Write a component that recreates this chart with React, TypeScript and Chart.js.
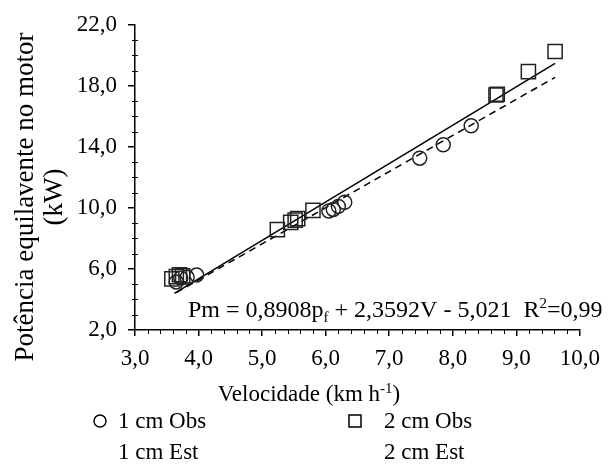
import { useEffect, useRef } from "react";
import { Chart, registerables } from "chart.js";

Chart.register(...registerables);

// Observed engine-equivalent power (kW) vs. travel speed (km/h), per working depth
const cm1Speed = [3.65, 3.72, 3.82, 3.97, 6.05, 6.12, 6.2, 6.3, 7.48, 7.85, 8.29];
const cm1Power = [5.15, 5.4, 5.45, 5.6, 9.8, 9.9, 10.1, 10.37, 13.26, 14.14, 15.38];
const cm2Speed = [3.58, 3.65, 3.7, 3.75, 5.24, 5.45, 5.52, 5.56, 5.8, 8.68, 8.7, 9.19, 9.61];
const cm2Power = [5.35, 5.5, 5.62, 5.55, 8.58, 9.05, 9.2, 9.3, 9.84, 17.4, 17.45, 18.93, 20.25];

// Estimated (model) lines
const cm1EstSpeed = [3.65, 9.61];
const cm1EstPower = [4.45, 18.56];
const cm2EstSpeed = [3.62, 9.61];
const cm2EstPower = [4.4, 19.47];

// Axis ranges and tick steps
const xRange = [3, 10];
const yRange = [2, 22];
const xMajorStep = 1;
const xMinorStep = 0.2;
const yMajorStep = 4;
const yMinorStep = 1;

const seriesLabels = ["1 cm Obs", "2 cm Obs", "1 cm Est", "2 cm Est"];
const xTitle = "Velocidade (km h";
const xTitleSup = "-1";
const yTitleLines = ["Potência equilavente no motor", "(kW)"];

const SERIF = '"Liberation Serif", "Times New Roman", serif';
const INK = "#000";

const fmt = (v: number) => v.toFixed(1).replace(".", ",");
const toXY = (xs: number[], ys: number[]) => xs.map((x, i) => ({ x, y: ys[i] }));

// Minor tick marks on both axes
const minorTicks = {
  id: "minorTicks",
  afterDraw(chart: any) {
    const { ctx, scales } = chart;
    const x = scales.x;
    const y = scales.y;
    const area = chart.chartArea;
    ctx.save();
    ctx.strokeStyle = INK;
    ctx.lineWidth = 1;
    const nx = Math.round((xRange[1] - xRange[0]) / xMinorStep);
    const perX = Math.round(xMajorStep / xMinorStep);
    for (let i = 0; i <= nx; i++) {
      if (i % perX === 0) continue;
      const px = Math.round(x.getPixelForValue(xRange[0] + i * xMinorStep)) + 0.5;
      ctx.beginPath();
      ctx.moveTo(px, area.bottom);
      ctx.lineTo(px, area.bottom + 4);
      ctx.stroke();
    }
    const ny = Math.round((yRange[1] - yRange[0]) / yMinorStep);
    const perY = Math.round(yMajorStep / yMinorStep);
    for (let i = 0; i <= ny; i++) {
      if (i % perY === 0) continue;
      const py = Math.round(y.getPixelForValue(yRange[0] + i * yMinorStep)) + 0.5;
      ctx.beginPath();
      ctx.moveTo(area.left - 3, py);
      ctx.lineTo(area.left + 3, py);
      ctx.stroke();
    }
    ctx.restore();
  },
};

// Axis titles, regression equation and the two-column legend
const annotations = {
  id: "annotations",
  afterDraw(chart: any) {
    const { ctx } = chart;
    const area = chart.chartArea;
    ctx.save();
    ctx.fillStyle = INK;
    ctx.textBaseline = "alphabetic";

    // Equation with subscript and superscript
    const eq = `24px ${SERIF}`;
    const big = `23px ${SERIF}`;
    const small = `15px ${SERIF}`;
    const parts: [string, string, number][] = [
      ["Pm = 0,8908p", eq, 0],
      ["f", small, 5],
      [" + 2,3592V - 5,021  R", eq, 0],
      ["2", small, -9],
      ["=0,99", eq, 0],
    ];
    let ex = area.left + 53;
    const ey = area.bottom - 13;
    ctx.textAlign = "left";
    for (const [t, f, dy] of parts) {
      ctx.font = f;
      ctx.fillText(t, ex, ey + dy);
      ex += ctx.measureText(t).width;
    }

    // X axis title
    ctx.font = big;
    const w1 = ctx.measureText(xTitle).width;
    ctx.font = small;
    const w2 = ctx.measureText(xTitleSup).width;
    ctx.font = big;
    const w3 = ctx.measureText(")").width;
    let tx = 309 - (w1 + w2 + w3) / 2;
    const ty = 401;
    ctx.fillText(xTitle, tx, ty);
    tx += w1;
    ctx.font = small;
    ctx.fillText(xTitleSup, tx, ty - 8);
    tx += w2;
    ctx.font = big;
    ctx.fillText(")", tx, ty);

    // Y axis title (two lines, rotated)
    ctx.save();
    ctx.font = `27px ${SERIF}`;
    ctx.textAlign = "center";
    ctx.translate(33, 197);
    ctx.rotate(-Math.PI / 2);
    ctx.fillText(yTitleLines[0], 0, 0);
    ctx.fillText(yTitleLines[1], 0, 29);
    ctx.restore();

    // Legend
    ctx.font = big;
    ctx.textAlign = "left";
    ctx.strokeStyle = INK;
    ctx.lineWidth = 1.5;
    ctx.beginPath();
    ctx.arc(100, 421, 6, 0, Math.PI * 2);
    ctx.stroke();
    ctx.strokeRect(349, 415, 12, 12);
    ctx.fillText(seriesLabels[0], 118, 428);
    ctx.fillText(seriesLabels[1], 384, 428);
    ctx.fillText(seriesLabels[2], 118, 459);
    ctx.fillText(seriesLabels[3], 384, 459);

    ctx.restore();
  },
};

export default function App() {
  const ref = useRef<HTMLCanvasElement | null>(null);

  useEffect(() => {
    if (!ref.current) return;
    const chart = new Chart(ref.current, {
      type: "scatter",
      data: {
        datasets: [
          {
            label: seriesLabels[0],
            data: toXY(cm1Speed, cm1Power),
            pointStyle: "circle",
            pointRadius: 7,
            pointBorderWidth: 1.5,
            borderColor: "#222",
            backgroundColor: "rgba(0,0,0,0)",
            showLine: false,
          },
          {
            label: seriesLabels[1],
            data: toXY(cm2Speed, cm2Power),
            pointStyle: "rect",
            pointRadius: 10,
            pointBorderWidth: 1.5,
            borderColor: "#222",
            backgroundColor: "rgba(0,0,0,0)",
            showLine: false,
          },
          {
            label: seriesLabels[2],
            data: toXY(cm1EstSpeed, cm1EstPower),
            showLine: true,
            pointRadius: 0,
            borderColor: INK,
            borderWidth: 1.5,
            borderDash: [7, 5],
            fill: false,
          },
          {
            label: seriesLabels[3],
            data: toXY(cm2EstSpeed, cm2EstPower),
            showLine: true,
            pointRadius: 0,
            borderColor: INK,
            borderWidth: 1.5,
            fill: false,
          },
        ],
      },
      options: {
        responsive: false,
        animation: false,
        devicePixelRatio: 1,
        layout: { padding: { left: 0, top: 24, right: 24, bottom: 0 } },
        plugins: {
          legend: { display: false },
          tooltip: { enabled: false },
        },
        scales: {
          x: {
            type: "linear",
            min: xRange[0],
            max: xRange[1],
            afterFit: (s: any) => {
              s.height = 134;
            },
            ticks: {
              stepSize: xMajorStep,
              callback: (v: any) => fmt(Number(v)),
              font: { family: SERIF, size: 23 },
              color: INK,
              padding: 9,
              maxRotation: 0,
            },
            grid: {
              display: true,
              drawOnChartArea: false,
              drawTicks: true,
              tickLength: 6,
              color: INK,
              lineWidth: 1.5,
            },
            border: { display: true, color: INK, width: 1.5 },
          },
          y: {
            type: "linear",
            min: yRange[0],
            max: yRange[1],
            afterFit: (s: any) => {
              s.width = 135;
            },
            ticks: {
              stepSize: yMajorStep,
              callback: (v: any) => fmt(Number(v)),
              font: { family: SERIF, size: 23 },
              color: INK,
              padding: 11,
            },
            grid: {
              display: true,
              drawOnChartArea: false,
              drawTicks: true,
              tickLength: 7,
              color: INK,
              lineWidth: 1.5,
            },
            border: { display: true, color: INK, width: 1.5 },
          },
        },
      },
      plugins: [minorTicks, annotations],
    });
    return () => chart.destroy();
  }, []);

  return (
    <div style={{ position: "absolute", left: 0, top: 0, width: 609, height: 464, background: "#fff" }}>
      <canvas ref={ref} width={609} height={464} />
    </div>
  );
}
